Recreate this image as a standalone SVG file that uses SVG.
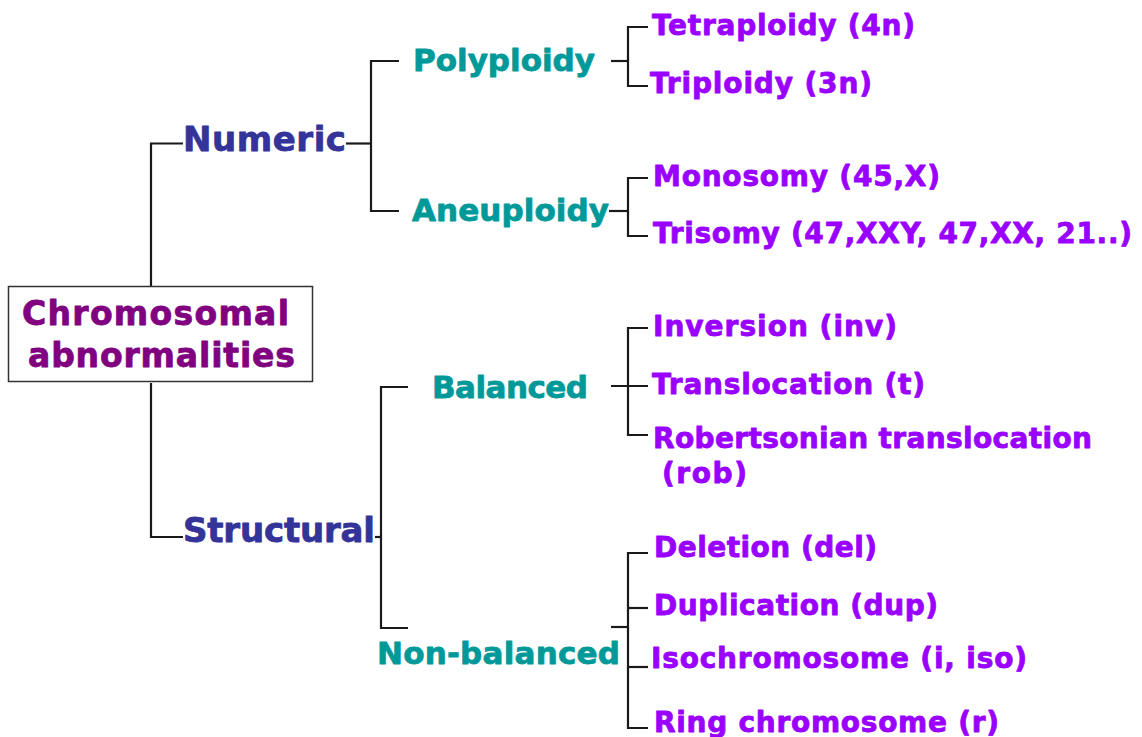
<svg xmlns="http://www.w3.org/2000/svg" width="1142" height="737" viewBox="0 0 1142 737">
<style>
text{font-family:"DejaVu Sans","Verdana","Liberation Sans",sans-serif;font-weight:bold;stroke-width:0.8;stroke-linejoin:round}
.root{fill:#800080;stroke:#800080;font-size:33px}
.l1{fill:#333399;stroke:#333399;font-size:34px}
.l2{fill:#009999;stroke:#009999;font-size:31px}
.leaf{fill:#9900ff;stroke:#9900ff;font-size:28px}
.conn path{fill:none;stroke:#1a1a1a;stroke-width:2.2}
</style>
<rect width="1142" height="737" fill="#ffffff"/>
<g class="conn" id="connectors">
<path d="M151,286 V143.5 H183"/>
<path d="M151,383 V537 H183"/>
<path d="M346,143.5 H371"/>
<path d="M399,61 H371 V211 H399"/>
<path d="M611,61 H628"/>
<path d="M648,27 H628 V86 H648"/>
<path d="M609,211 H628"/>
<path d="M648,178 H628 V236 H648"/>
<path d="M375,537 H381"/>
<path d="M408,387 H381 V628 H408"/>
<path d="M611,386 H648"/>
<path d="M648,328 H628 V435 H648"/>
<path d="M611,627 H628"/>
<path d="M648,553 H628 V728 H648"/>
<path d="M628,608 H648"/>
<path d="M628,667 H648"/>
</g>
<g id="root">
<rect x="8.5" y="286.5" width="304" height="95" fill="#ffffff" stroke="#333333" stroke-width="1.5"/>
<text class="root" x="22" y="325" textLength="267">Chromosomal</text>
<text class="root" x="28" y="367" textLength="267">abnormalities</text>
</g>
<g id="numeric"><text class="l1" x="183" y="151" textLength="163">Numeric</text></g>
<g id="structural"><text class="l1" x="183" y="542" textLength="192">Structural</text></g>
<g id="polyploidy"><text class="l2" x="413" y="71" textLength="182">Polyploidy</text></g>
<g id="aneuploidy"><text class="l2" x="412" y="221" textLength="197">Aneuploidy</text></g>
<g id="balanced"><text class="l2" x="432" y="398" textLength="156">Balanced</text></g>
<g id="nonbalanced"><text class="l2" x="377" y="664" textLength="243">Non-balanced</text></g>
<g id="tetraploidy"><text class="leaf" x="652" y="35" textLength="263">Tetraploidy (4n)</text></g>
<g id="triploidy"><text class="leaf" x="650" y="93" textLength="222">Triploidy (3n)</text></g>
<g id="monosomy"><text class="leaf" x="653" y="186" textLength="287">Monosomy (45,X)</text></g>
<g id="trisomy"><text class="leaf" x="653" y="243" textLength="479">Trisomy (47,XXY, 47,XX, 21..)</text></g>
<g id="inversion"><text class="leaf" x="653" y="336" textLength="244">Inversion (inv)</text></g>
<g id="translocation"><text class="leaf" x="652" y="394" textLength="273">Translocation (t)</text></g>
<g id="robertsonian">
<text class="leaf" x="653" y="448" textLength="439">Robertsonian translocation</text>
<text class="leaf" x="662" y="483" textLength="85">(rob)</text>
</g>
<g id="deletion"><text class="leaf" x="654" y="557" textLength="223">Deletion (del)</text></g>
<g id="duplication"><text class="leaf" x="654" y="615" textLength="284">Duplication (dup)</text></g>
<g id="isochromosome"><text class="leaf" x="651" y="668" textLength="376">Isochromosome (i, iso)</text></g>
<g id="ring"><text class="leaf" x="654" y="732" textLength="345">Ring chromosome (r)</text></g>
</svg>
